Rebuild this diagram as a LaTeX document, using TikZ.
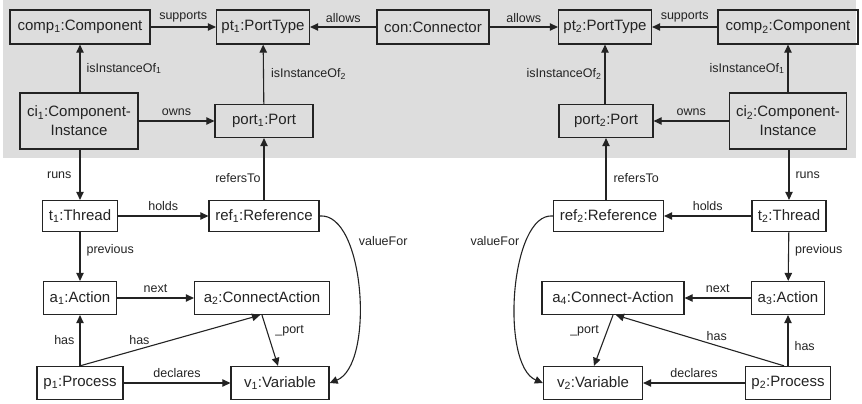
\documentclass[tikz,border=0pt]{standalone}
\usepackage{fontspec}
\setmainfont{Liberation Sans}
\usetikzlibrary{arrows.meta}
\definecolor{panel}{RGB}{221,221,221}
\definecolor{ink}{RGB}{35,35,35}
\tikzset{
  obj/.style={draw=ink, line width=1.3pt, inner sep=0pt, align=center,
    font=\fontsize{15}{19}\selectfont, text=ink},
  rel/.style={draw=ink, line width=1.1pt, -{Triangle[length=8pt,width=7.5pt]}},
  lbl/.style={font=\fontsize{12.5}{14}\selectfont, text=ink, inner sep=0pt}
}
\newcommand{\sub}[1]{\textsubscript{#1}}
\begin{document}
\begin{tikzpicture}[x=1pt,y=-1pt]
\useasboundingbox (0,0) rectangle (862,404);
% shaded type-level region
\fill[panel] (3,0) rectangle (856,158);

% type level
\node[obj, minimum width=140, minimum height=34] (comp1) at (80,27) {comp\sub{1}:Component};
\node[obj, minimum width=93,  minimum height=34] (pt1)   at (263,27) {pt\sub{1}:PortType};
\node[obj, minimum width=112, minimum height=34] (con)   at (433,27) {con:Connector};
\node[obj, minimum width=93,  minimum height=34] (pt2)   at (605,27) {pt\sub{2}:PortType};
\node[obj, minimum width=140, minimum height=34] (comp2) at (788,27) {comp\sub{2}:Component};

\node[obj, minimum width=118, minimum height=56] (ci1)   at (79,121) {ci\sub{1}:Component-\\Instance};
\node[obj, minimum width=98,  minimum height=33] (port1) at (264,121) {port\sub{1}:Port};
\node[obj, minimum width=94,  minimum height=33] (port2) at (606,121) {port\sub{2}:Port};
\node[obj, minimum width=117, minimum height=56] (ci2)   at (788,121) {ci\sub{2}:Component-\\Instance};

% instance level, left
\node[obj, minimum width=75,  minimum height=31] (t1)   at (80,216)  {t\sub{1}:Thread};
\node[obj, minimum width=110, minimum height=31] (ref1) at (264,216) {ref\sub{1}:Reference};
\node[obj, minimum width=73,  minimum height=33] (a1)   at (80,298)  {a\sub{1}:Action};
\node[obj, minimum width=135, minimum height=33] (a2)   at (262,298) {a\sub{2}:ConnectAction};
\node[obj, minimum width=86,  minimum height=33] (p1)   at (80,383)  {p\sub{1}:Process};
\node[obj, minimum width=98,  minimum height=33] (v1)   at (280,383) {v\sub{1}:Variable};

% instance level, right
\node[obj, minimum width=110, minimum height=31] (ref2) at (608.5,216) {ref\sub{2}:Reference};
\node[obj, minimum width=74,  minimum height=31] (t2)   at (789,216) {t\sub{2}:Thread};
\node[obj, minimum width=142, minimum height=33] (a4)   at (613,298) {a\sub{4}:Connect-Action};
\node[obj, minimum width=73,  minimum height=33] (a3)   at (788,298) {a\sub{3}:Action};
\node[obj, minimum width=99,  minimum height=33] (v2)   at (593,383) {v\sub{2}:Variable};
\node[obj, minimum width=85,  minimum height=33] (p2)   at (788,383) {p\sub{2}:Process};

% type-level relations
\draw[rel] (comp1) -- node[lbl, above=4pt] {supports} (pt1);
\draw[rel] (con) -- node[lbl, above=4pt] {allows} (pt1);
\draw[rel] (con) -- node[lbl, above=4pt] {allows} (pt2);
\draw[rel] (comp2) -- node[lbl, above=4pt] {supports} (pt2);
\draw[rel] (ci1.north -| comp1) -- node[lbl, right=6pt] {isInstanceOf\sub{1}} (comp1);
\draw[rel] (port1) -- node[lbl, right=7pt] {isInstanceOf\sub{2}} (pt1);
\draw[rel] (port2.north -| pt2) -- node[lbl, left=3pt] {isInstanceOf\sub{2}} (pt2);
\draw[rel] (ci2.north -| comp2) -- node[lbl, left=3pt] {isInstanceOf\sub{1}} (comp2);
\draw[rel] (ci1) -- node[lbl, above=5pt] {owns} (port1);
\draw[rel] (ci2) -- node[lbl, above=5pt] {owns} (port2);

% links from the instance level
\draw[rel] (ci1.south -| t1) -- node[lbl, left=8pt] {runs} (t1);
\draw[rel] (ci2.south -| t2) -- node[lbl, right=6pt] {runs} (t2);
\draw[rel] (ref1) -- node[lbl, left=3pt, pos=0.35] {refersTo} (port1);
\draw[rel] (ref2.north -| port2) -- node[lbl, right=7pt, pos=0.35] {refersTo} (port2);

% left thread
\draw[rel] (t1) -- node[lbl, above=5pt] {holds} (ref1);
\draw[rel] (t1) -- node[lbl, right=6pt, pos=0.38] {previous} (a1);
\draw[rel] (a1) -- node[lbl, above=5pt] {next} (a2);
\draw[rel] (p1) -- node[lbl, left=5pt] {has} (a1);
\draw[rel] (p1.north) -- node[lbl, above=4pt, pos=0.33] {has} ([xshift=-2pt]a2.south);
\draw[rel] (a2.south) -- node[lbl, right=8pt, pos=0.3] {\_port} ([xshift=-2pt]v1.north);
\draw[rel] (p1) -- node[lbl, above=5pt] {declares} (v1);
\draw[rel] (ref1.east) .. controls (365,212) and (375,365) .. node[lbl, right=10pt, pos=0.27] {valueFor} (v1.east);

% right thread
\draw[rel] (t2) -- node[lbl, above=5pt] {holds} (ref2);
\draw[rel] (t2) -- node[lbl, right=6pt, pos=0.38] {previous} (a3);
\draw[rel] (a3) -- node[lbl, above=5pt] {next} (a4);
\draw[rel] (p2) -- node[lbl, right=6pt, pos=0.4] {has} (a3);
\draw[rel] ([xshift=-4pt]p2.north) -- node[lbl, above=4pt, pos=0.4] {has} ([xshift=3pt]a4.south);
\draw[rel] (a4.south) -- node[lbl, left=8pt, pos=0.3] {\_port} ([xshift=1pt]v2.north);
\draw[rel] (p2) -- node[lbl, above=5pt] {declares} (v2);
\draw[rel] (ref2.west) .. controls (510,212) and (500,365) .. node[lbl, left=6pt, pos=0.27] {valueFor} (v2.west);
\end{tikzpicture}
\end{document}
